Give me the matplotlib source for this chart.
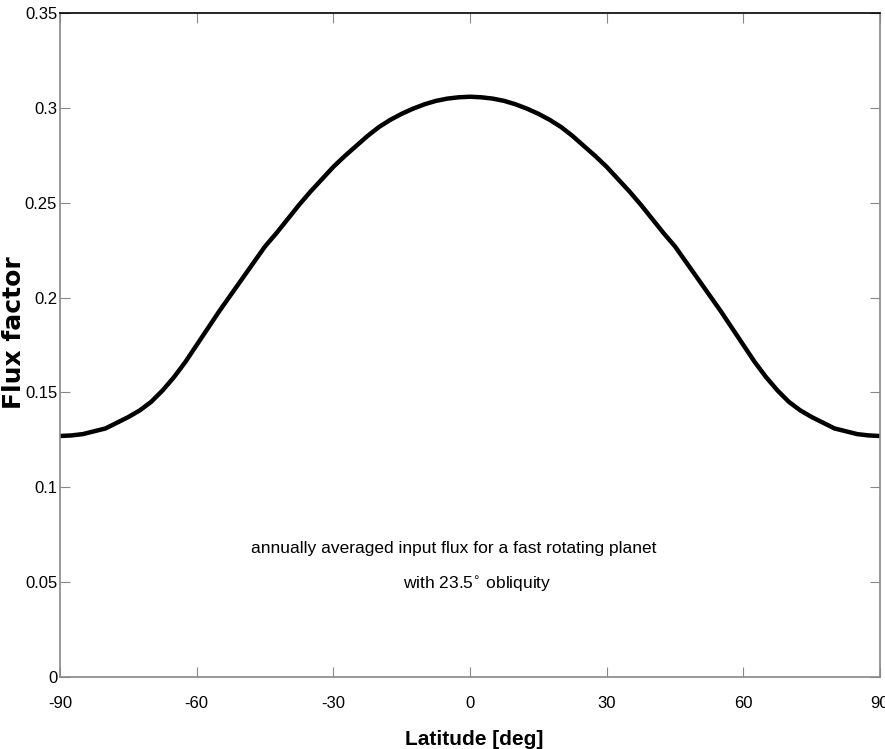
import matplotlib
matplotlib.use("Agg")
import matplotlib.pyplot as plt

# annual mean flux factor, every 2.5 deg
latitude = [-90, -87.5, -85, -82.5, -80, -77.5, -75, -72.5, -70, -67.5,
            -65, -62.5, -60, -57.5, -55, -52.5, -50, -47.5, -45, -42.5,
            -40, -37.5, -35, -32.5, -30, -27.5, -25, -22.5, -20, -17.5,
            -15, -12.5, -10, -7.5, -5, -2.5, 0, 2.5, 5, 7.5, 10, 12.5, 15,
            17.5, 20, 22.5, 25, 27.5, 30, 32.5, 35, 37.5, 40, 42.5, 45,
            47.5, 50, 52.5, 55, 57.5, 60, 62.5, 65, 67.5, 70, 72.5, 75,
            77.5, 80, 82.5, 85, 87.5, 90]
flux = [0.127, 0.1273, 0.128, 0.1295, 0.131, 0.134, 0.137, 0.1405, 0.145,
        0.151, 0.158, 0.166, 0.175, 0.184, 0.193, 0.2015, 0.210, 0.2185,
        0.227, 0.234, 0.2415, 0.249, 0.256, 0.2625, 0.269, 0.2747, 0.280,
        0.2853, 0.290, 0.2938, 0.297, 0.2997, 0.302, 0.3038, 0.305, 0.3057,
        0.306,
        0.3057, 0.305, 0.3038, 0.302, 0.2997, 0.297, 0.2938, 0.290, 0.2853,
        0.280, 0.2747, 0.269, 0.2625, 0.256, 0.249, 0.2415, 0.234, 0.227,
        0.2185, 0.210, 0.2015, 0.193, 0.184, 0.175, 0.166, 0.158, 0.151,
        0.145, 0.1405, 0.137, 0.134, 0.131, 0.1295, 0.128, 0.1273, 0.127]

xticks = [-90, -60, -30, 0, 30, 60, 90]
yticks = [0, 0.05, 0.1, 0.15, 0.2, 0.25, 0.3, 0.35]
ytick_labels = ["0", "0.05", "0.1", "0.15", "0.2", "0.25", "0.3", "0.35"]

font = "Liberation Sans"

fig = plt.figure(figsize=(8.85, 7.49), dpi=100)
ax = fig.add_axes([0.0678, 0.0965, 0.9266, 0.8857])

ax.plot(latitude, flux, color="black", linewidth=3.2,
        solid_joinstyle="round", solid_capstyle="butt")

ax.set_xlim(-90, 90)
ax.set_ylim(0, 0.35)
ax.set_xticks(xticks)
ax.set_xticklabels([str(t) for t in xticks], family=font, fontsize=12)
ax.set_yticks(yticks)
ax.set_yticklabels(ytick_labels, family=font, fontsize=12)
ax.tick_params(direction="in", length=7, color="#888888", top=True, right=True)
ax.tick_params(axis="x", pad=14)
ax.tick_params(axis="y", pad=2)

for side in ["left", "bottom", "right"]:
    ax.spines[side].set_color("#888888")
    ax.spines[side].set_linewidth(1.2)
ax.spines["top"].set_color("black")
ax.spines["top"].set_linewidth(1.2)

ax.set_xlabel("Latitude [deg]", family=font, fontsize=15, fontweight="bold")
ax.xaxis.set_label_coords(0.505, -0.08)
ax.set_ylabel("Flux factor", family="DejaVu Sans", fontsize=18,
              fontweight="bold")
ax.yaxis.set_label_coords(-0.042, 0.519)

ax.text(0.4805, 0.193, "annually averaged input flux for a fast rotating planet",
        transform=ax.transAxes, ha="center", va="center", family=font,
        fontsize=12.5)
ax.text(0.5085, 0.14, r"with 23.5$^{\circ}$ obliquity",
        transform=ax.transAxes, ha="center", va="center", family=font,
        fontsize=12.5)

fig.savefig("out.png", dpi=100)
